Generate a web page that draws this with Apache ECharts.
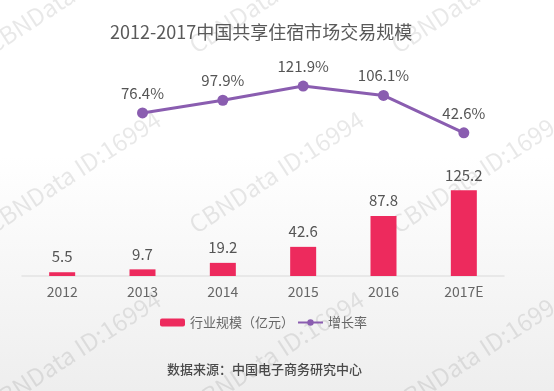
<!DOCTYPE html>
<html>
<head>
<meta charset="utf-8">
<script src="https://cdn.jsdelivr.net/npm/echarts@6/dist/echarts.min.js"></script>
<style>
html,body{margin:0;padding:0;background:#fff;}
#chart{width:554px;height:391px;}
</style>
</head>
<body>
<div id="chart"></div>
<script>
var titleText = '2012-2017中国共享住宿市场交易规模';
var categories = ['2012', '2013', '2014', '2015', '2016', '2017E'];
var marketSize = [5.5, 9.7, 19.2, 42.6, 87.8, 125.2];
var growthRate = [null, 76.4, 97.9, 121.9, 106.1, 42.6];
var seriesNames = ['行业规模（亿元）', '增长率'];
var sourceText = '数据来源：中国电子商务研究中心';
var watermarkText = 'CBNData ID:16994';

var FONT = '"Noto Sans CJK SC", "Noto Sans", sans-serif';
var chart = echarts.init(document.getElementById('chart'), null, {renderer: 'canvas'});

var wm = [];
var rowsY = [57, 237, 417];
var colsX = [-5, 198, 400];
rowsY.forEach(function (y) {
  colsX.forEach(function (x) {
    wm.push({
      type: 'text',
      x: x, y: y,
      rotation: 33 * Math.PI / 180,
      z: -10,
      silent: true,
      style: {
        text: watermarkText,
        fill: 'rgba(0,0,0,0.09)',
        font: '24px ' + FONT,
        textVerticalAlign: 'bottom'
      }
    });
  });
});

var option = {
  backgroundColor: {
    type: 'linear', x: 0, y: 0, x2: 0, y2: 1,
    colorStops: [
      {offset: 0, color: '#ffffff'},
      {offset: 0.4, color: '#ffffff'},
      {offset: 1, color: '#eeeeee'}
    ]
  },
  animation: false,
  title: {
    text: titleText,
    left: 110,
    top: 23,
    padding: 0,
    textStyle: {fontFamily: FONT, fontSize: 18, fontWeight: 'normal', color: '#595959'}
  },
  legend: {
    data: seriesNames,
    left: 160,
    top: 316,
    padding: 0,
    itemWidth: 25,
    itemHeight: 8,
    itemGap: 3,
    textStyle: {fontFamily: FONT, fontSize: 13, color: '#666'}
  },
  grid: {left: 22, right: 50, top: 40, bottom: 115, containLabel: false},
  xAxis: {
    type: 'category',
    data: categories,
    axisLine: {lineStyle: {color: '#e4e4e4', width: 1.5}},
    axisTick: {show: false},
    axisLabel: {fontFamily: FONT, fontSize: 14, color: '#666', margin: 9}
  },
  yAxis: [
    {type: 'value', min: 0, max: 345, show: false, splitLine: {show: false}},
    {type: 'value', min: -200, max: 200, show: false, splitLine: {show: false}}
  ],
  series: [
    {
      name: seriesNames[0],
      type: 'bar',
      yAxisIndex: 0,
      data: marketSize,
      barWidth: 26,
      itemStyle: {color: '#ed2a5d'},
      label: {
        show: true, position: 'top', distance: 8,
        fontFamily: FONT, fontSize: 15, color: '#555'
      }
    },
    {
      name: seriesNames[1],
      type: 'line',
      yAxisIndex: 1,
      data: growthRate,
      symbol: 'circle',
      symbolSize: 11,
      lineStyle: {color: '#8a5db0', width: 3},
      itemStyle: {color: '#8a5db0'},
      label: {
        show: true, position: 'top', distance: 7,
        formatter: '{c}%',
        fontFamily: FONT, fontSize: 15, color: '#555'
      }
    }
  ],
  graphic: wm.concat([
    {
      type: 'text',
      left: 167,
      top: 363,
      style: {
        text: sourceText,
        fill: '#4a4a4a',
        font: '500 13px ' + FONT
      }
    }
  ])
};
chart.setOption(option);
</script>
</body>
</html>
